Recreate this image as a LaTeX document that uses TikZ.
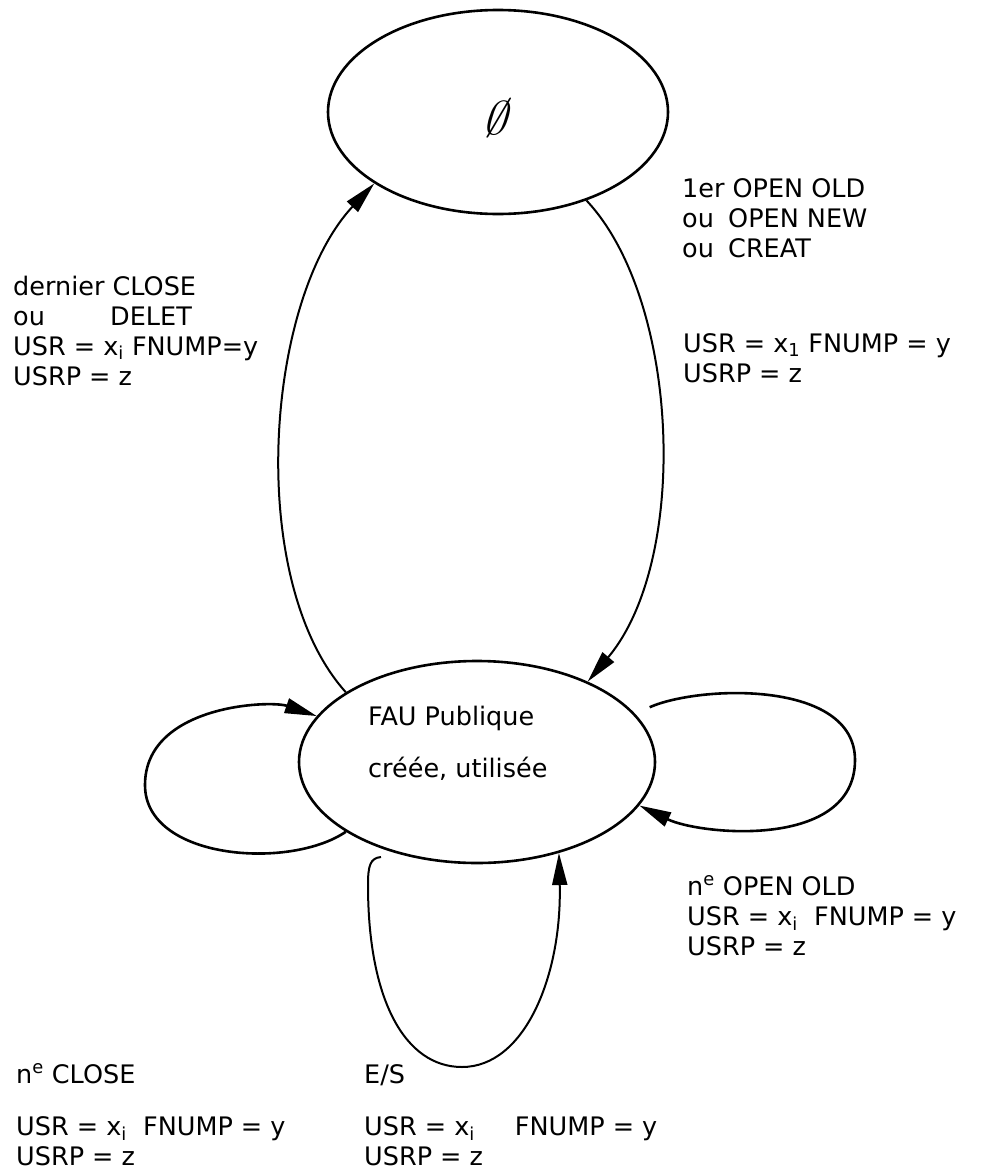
\documentclass[tikz,border=0pt]{standalone}
\usepackage{fontspec}
\setmainfont{DejaVu Sans}
\usetikzlibrary{arrows.meta,shapes.geometric}

\begin{document}
\begin{tikzpicture}[
  x=1pt, y=-1pt,
  etat/.style={draw, ellipse, line width=2.6pt, inner sep=0pt},
  trans/.style={-{Triangle[length=32pt,width=15pt]}, line width=2pt},
  lbl/.style={anchor=base west, align=left, inner sep=0pt, font=\fontsize{25.5}{30}\selectfont}
]
\useasboundingbox (0,0) rectangle (988,1170);

% etats
\node[etat, minimum width=340pt, minimum height=204pt] (vide) at (498,112) {};
\node[font=\fontsize{24}{24}\selectfont, scale=1.9, xslant=0.3] (videsym) at (499,118) {$\emptyset$};
\node[etat, minimum width=356pt, minimum height=202pt] (fau) at (477,762) {};
\node[lbl] (fautitre) at (368,725) {FAU Publique};
\node[lbl] (fauetat) at (368,777) {créée, utilisée};

% transitions
\draw[trans] (fau.152) .. controls (245,580) and (265,300) .. (vide.-150);
\draw[trans] (vide.-45) .. controls (680,300) and (690,560) .. (fau.36);
\draw[trans, line width=2.6pt] (fau.-152) .. controls (290,870) and (145,860) .. (145,785)
  .. controls (145,705) and (270,700) .. (fau.164);
\draw[trans, line width=2.6pt, shorten <=16pt] (fau.17) .. controls (700,685) and (855,680) .. (855,760)
  .. controls (855,850) and (700,835) .. (fau.-15);
\coordinate (esdep) at (381,857);
\draw[trans] (esdep) .. controls (370,858) and (368,866) .. (368,885)
  .. controls (368,1000) and (405,1067) .. (462,1067)
  .. controls (525,1067) and (562,975) .. (fau.-48);

% etiquettes (base = derniere ligne)
\node[lbl] (dernier) at (13,385) {dernier CLOSE\\\makebox[97pt][l]{ou}DELET\\USR = x\textsubscript{i} FNUMP=y\\USRP = z};
\node[lbl] (premier) at (682,257) {1er OPEN OLD\\\makebox[46pt][l]{ou}OPEN NEW\\\makebox[46pt][l]{ou}CREAT};
\node[lbl] (premierusr) at (683,382) {USR = x\textsubscript{1} FNUMP = y\\USRP = z};
\node[lbl] (nieme) at (687,955) {n\textsuperscript{e} OPEN OLD\\USR = x\textsubscript{i}\ \ FNUMP = y\\USRP = z};
\node[lbl] (fermer) at (16,1165) {n\textsuperscript{e} CLOSE\\[22pt]USR = x\textsubscript{i}\ \ FNUMP = y\\USRP = z};
\node[lbl] (es) at (364,1165) {E/S\\[22pt]USR = x\textsubscript{i}\hspace{40pt}FNUMP = y\\USRP = z};
\end{tikzpicture}
\end{document}
